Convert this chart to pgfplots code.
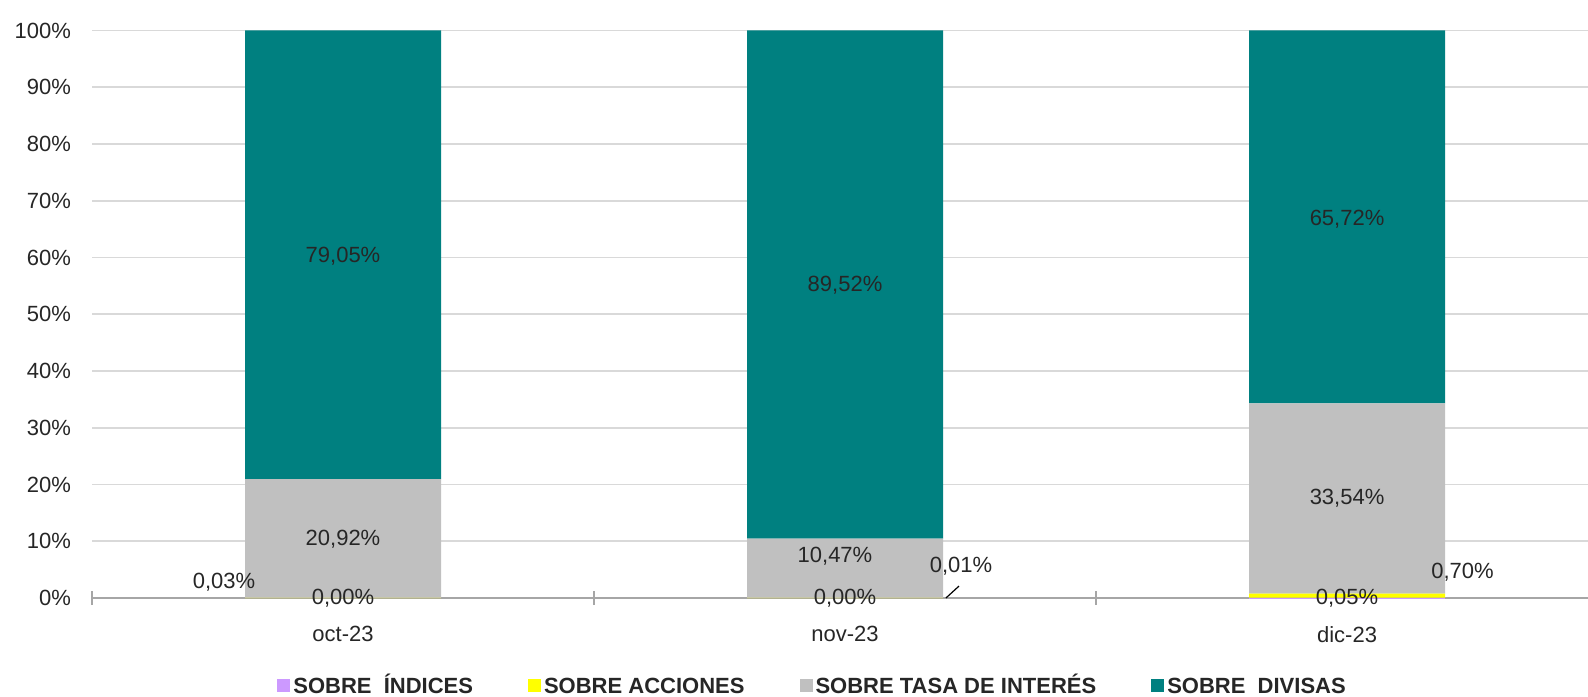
\documentclass[border=0pt]{standalone}
\usepackage{pgfplots}
\pgfplotsset{compat=1.18}
\usepackage{fontspec}
\setmainfont{Liberation Sans}
\definecolor{cIndices}{HTML}{CC99FF}
\definecolor{cAcciones}{HTML}{FFFF00}
\definecolor{cTasa}{HTML}{C0C0C0}
\definecolor{cDivisas}{HTML}{008080}
\definecolor{cGrid}{HTML}{D9D9D9}
\definecolor{cAxis}{HTML}{A6A6A6}
\definecolor{cText}{HTML}{262626}
\pgfplotsset{common/.style={
  at={(46pt,49pt)}, anchor=south west,
  scale only axis, width=748pt, height=283.75pt,
  xmin=-0.5, xmax=2.48, ymin=0, ymax=100,
  enlargelimits=false,
  font=\fontsize{11}{13}\selectfont,
}}
\begin{document}
\begin{tikzpicture}
\useasboundingbox (0,0) rectangle (794pt,348pt);
\begin{axis}[
  common,
  ybar stacked, bar width=98pt,
  /pgf/number format/assume math mode=true,
  axis x line*=bottom, axis y line*=left,
  x axis line style={draw=cAxis, line width=0.8pt},
  y axis line style={draw=none},
  xtick={0,1,2}, xticklabels={oct-23,nov-23,dic-23},
  minor xtick={-0.5,0.5,1.5},
  major tick length=0pt, minor tick length=7pt,
  xtick align=center,
  xtick style={draw=cAxis, line width=0.8pt},
  xticklabel style={yshift=-10.5pt, text=cText},
  ytick={0,10,...,100},
  yticklabel={\pgfmathprintnumber{\tick}\%},
  yticklabel style={xshift=-7pt, text=cText},
  ytick style={draw=none},
  ymajorgrids, grid style={draw=cGrid, line width=0.8pt},
  legend columns=4,
  legend style={at={(0.482,-0.155)}, anchor=center, draw=none,
    font=\bfseries\fontsize{11}{13}\selectfont, text=cText,
    /tikz/every even column/.append style={column sep=26pt},
    nodes={inner sep=1.5pt, text height=8pt, text depth=0.5pt}},
  legend image code/.code={\fill[#1] (0pt,-3.25pt) rectangle (6.5pt,3.25pt);},
]
\addplot[fill=cIndices, draw=none] coordinates {(0,0.00) (1,0.00) (2,0.05)};
\addplot[fill=cAcciones, draw=none] coordinates {(0,0.03) (1,0.01) (2,0.70)};
\addplot[fill=cTasa, draw=none] coordinates {(0,20.92) (1,10.47) (2,33.54)};
\addplot[fill=cDivisas, draw=none] coordinates {(0,79.05) (1,89.52) (2,65.72)};
\legend{SOBRE \ ÍNDICES, SOBRE ACCIONES, SOBRE TASA DE INTERÉS, SOBRE \ DIVISAS}
\end{axis}
\begin{axis}[
  common, axis lines=none, xtick=\empty, ytick=\empty,
]
\addplot[draw=none, mark=none, nodes near coords={\pgfplotspointmeta\%},
  nodes near coords align=center, point meta=explicit symbolic,
  every node near coord/.append style={text=cText, inner sep=0pt, anchor=center}]
  table[meta=lab] {
x y lab
0 60.3 79,05
0 10.3 20,92
0 0 0,00
-0.237 2.8 0,03
1 55.2 89,52
0.98 7.4 10,47
1 0 0,00
1.231 5.6 0,01
2 66.8 65,72
2 17.6 33,54
2 0 0,05
2.23 4.6 0,70
};
\addplot[black, line width=0.6pt, mark=none] coordinates {(1.201,0) (1.227,2.1)};
\end{axis}
\end{tikzpicture}
\end{document}
